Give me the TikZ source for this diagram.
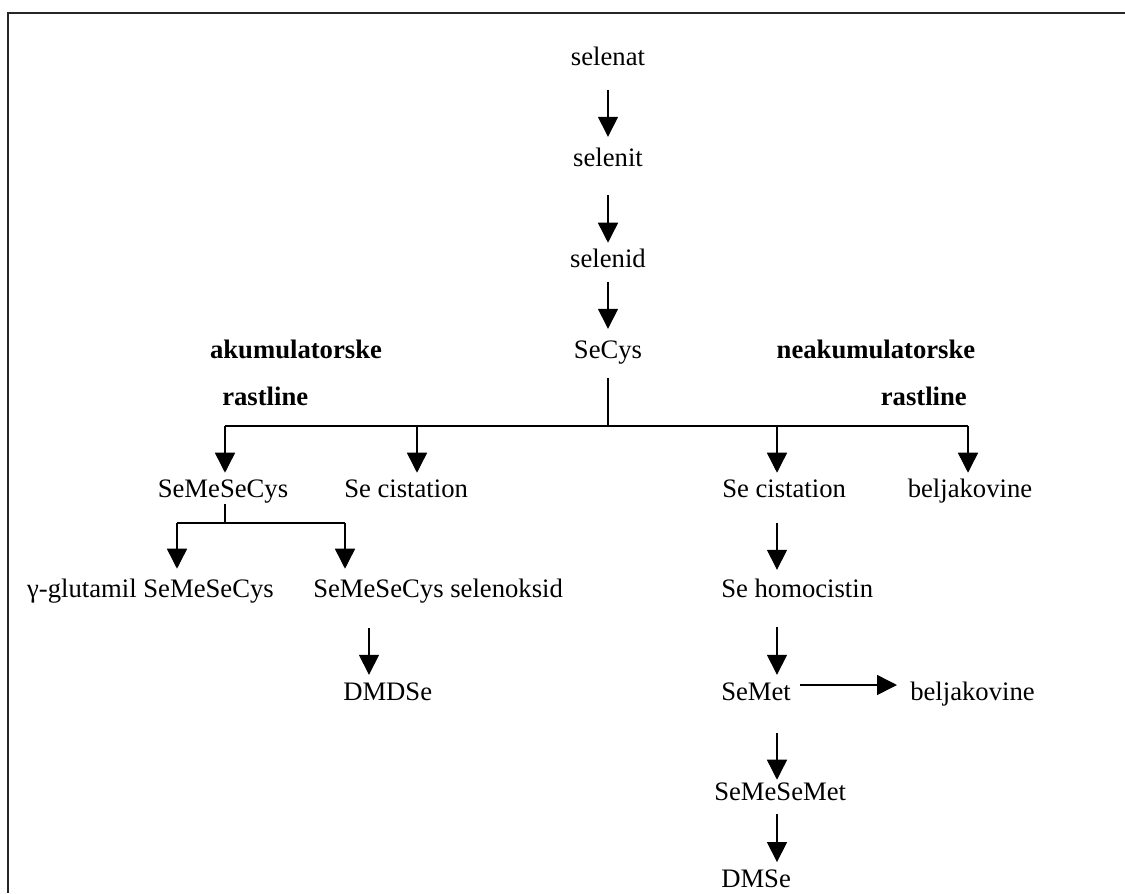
\documentclass[tikz,border=0pt]{standalone}
\usepackage{fontspec}
\setmainfont{Liberation Serif}
\usetikzlibrary{arrows.meta}

\begin{document}
\begin{tikzpicture}[x=0.75pt, y=-0.75pt,
    arr/.style={-{Triangle[length=15pt, width=15pt]}},
    bold/.style={font=\fontsize{20}{24}\selectfont\bfseries}]
      \useasboundingbox (0,0) rectangle (1125,893);
      \draw[line width=1.6pt, black!85] (8,893) -- (8,13) -- (1125,13);
      \begin{scope}[every node/.style={inner sep=0pt, anchor=base,
          text height=14pt, text depth=5pt, font=\fontsize{20}{24}\selectfont}]
        \node (selenat) at (608,65) {selenat};
        \node (selenit) at (608,166) {selenit};
        \node (selenid) at (608,267) {selenid};
        \node (secys) at (608,358) {SeCys};
        \node[bold] (akum) at (296,358) {akumulatorske};
        \node[bold, anchor=base west] (akumr) at (222,405) {rastline};
        \node[bold] (neakum) at (876,358) {neakumulatorske};
        \node[bold, anchor=base east] (neakumr) at (967,405) {rastline};
        \node (semesecys) at (223,497) {SeMeSeCys};
        \node[anchor=base west] (secistL) at (344,497) {Se cistation};
        \node[anchor=base west] (secistR) at (722,497) {Se cistation};
        \node (beljakR) at (970,497) {beljakovine};
        \node[anchor=base east] (glutamil) at (274,597) {γ-glutamil SeMeSeCys};
        \node[anchor=base west] (selenoksid) at (313,597) {SeMeSeCys selenoksid};
        \node[anchor=base west] (dmdse) at (343,700) {DMDSe};
        \node[anchor=base west] (sehomo) at (721,597) {Se homocistin};
        \node[anchor=base west] (semet) at (721,700) {SeMet};
        \node[anchor=base west] (beljakM) at (910,700) {beljakovine};
        \node[anchor=base west] (semesemet) at (714,800) {SeMeSeMet};
        \node[anchor=base west] (dmse) at (721,887) {DMSe};
      \end{scope}
      % branch points
      \coordinate (fork) at (608,426);
      \coordinate (c1) at (225,426);
      \coordinate (c2) at (417,426);
      \coordinate (c3) at (777,426);
      \coordinate (c4) at (968,426);
      \coordinate (sfork) at (225,523);
      \coordinate (s1) at (177,523);
      \coordinate (s2) at (345,523);
      \coordinate (dx) at (369,650);
      \begin{scope}[every edge/.style={draw=black, line width=1.1pt}]
        \path (selenat) edge[arr, shorten <=13.7pt, shorten >=7.7pt] (selenit);
        \path (selenit) edge[arr, shorten <=16.7pt, shorten >=4pt] (selenid);
        \path (selenid) edge[arr, shorten <=6.2pt, shorten >=7.7pt] (secys);
        \path (secys) edge[shorten <=10pt] (fork);
        \path (c1) edge (c4);
        \path (c1) edge[arr, shorten >=4pt] (c1 |- semesecys.north);
        \path (c2) edge[arr, shorten >=4pt] (c2 |- secistL.north);
        \path (c3) edge[arr, shorten >=4pt] (c3 |- secistR.north);
        \path (c4) edge[arr, shorten >=4pt] (c4 |- beljakR.north);
        \path (sfork |- semesecys.south) edge (sfork);
        \path (s1) edge (s2);
        \path (s1) edge[arr, shorten >=7pt] (s1 |- glutamil.north);
        \path (s2) edge[arr, shorten >=7pt] (s2 |- selenoksid.north);
        \path (dx |- selenoksid.south) edge[arr, shorten <=18.2pt, shorten >=4.7pt] (dx |- dmdse.north);
        \path (c3 |- secistR.south) edge[arr, shorten <=14.5pt, shorten >=6.2pt] (c3 |- sehomo.north);
        \path (c3 |- sehomo.south) edge[arr, shorten <=17.5pt, shorten >=4.7pt] (c3 |- semet.north);
        \path (c3 |- semet.south) edge[arr, shorten <=19.7pt, shorten >=1pt] (c3 |- semesemet.north);
        \path (c3 |- semesemet.south) edge[arr, shorten <=5.5pt, shorten >=4.5pt] (c3 |- dmse.north);
        \path ([yshift=6.75pt]semet.east) edge[arr, shorten <=6.75pt, shorten >=9.75pt] ([yshift=6.75pt]beljakM.west);
      \end{scope}
    \end{tikzpicture}
\end{document}
